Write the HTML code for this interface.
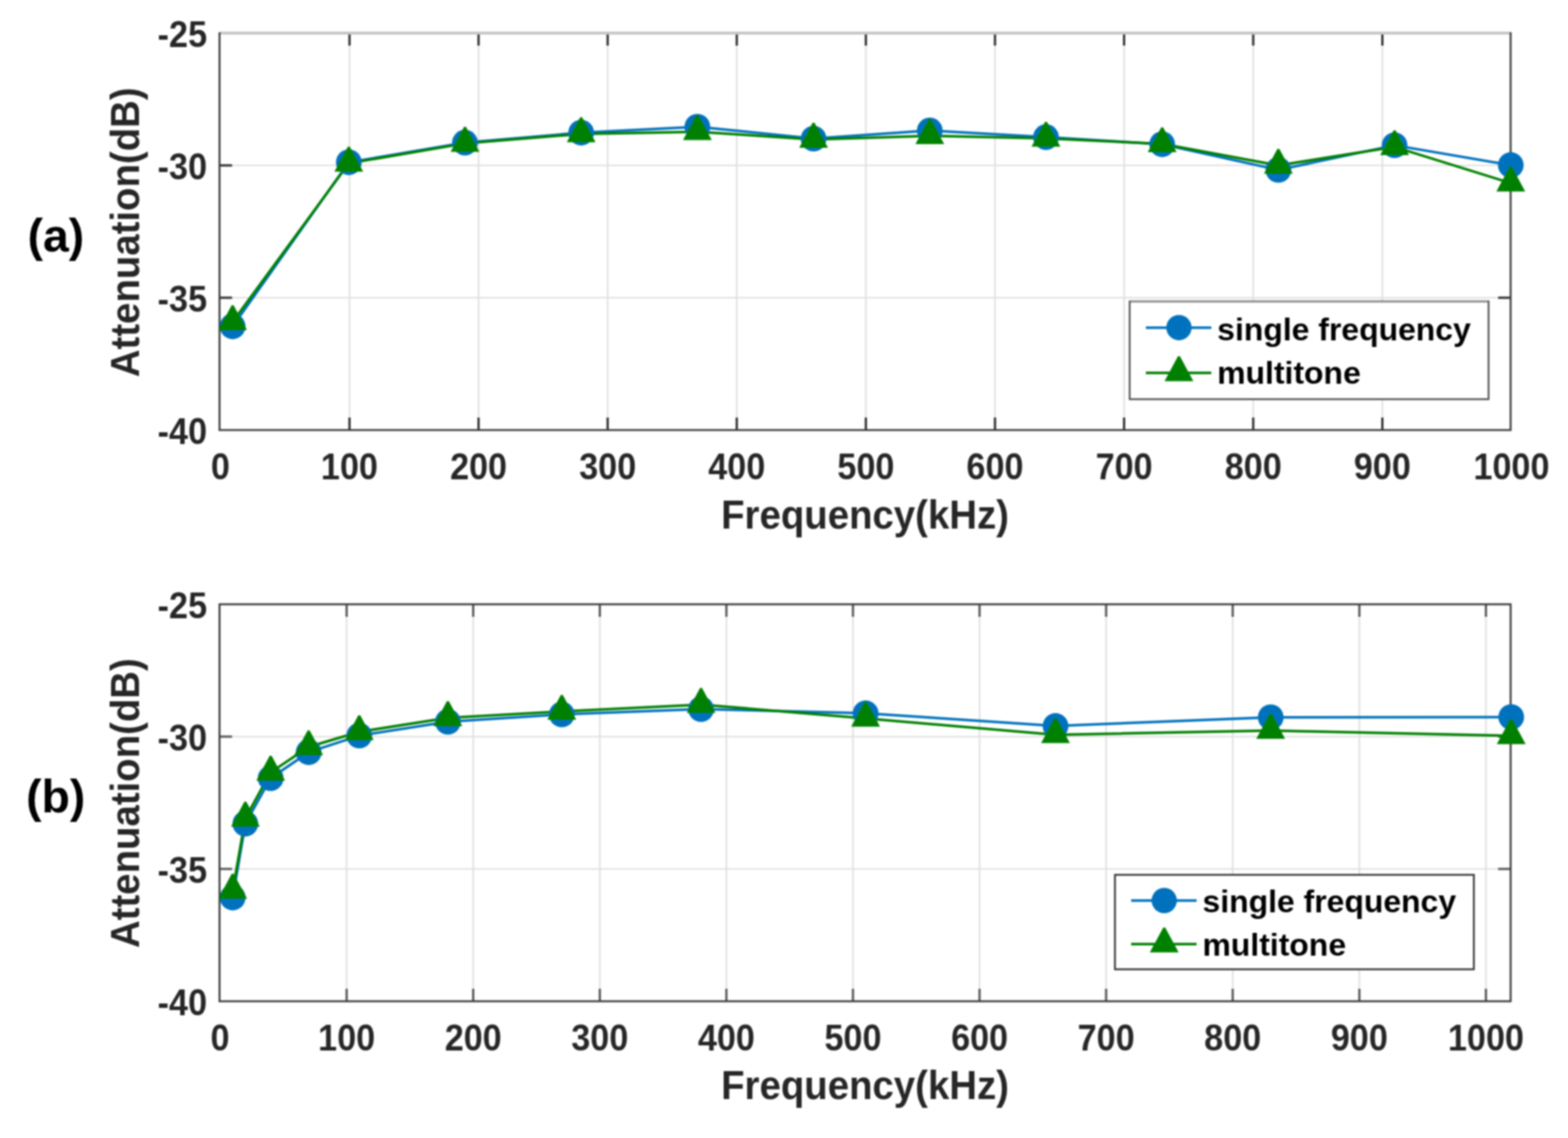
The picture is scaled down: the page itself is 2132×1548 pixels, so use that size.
<!DOCTYPE html>
<html><head><meta charset="utf-8"><title>Attenuation vs Frequency</title>
<style>html,body{margin:0;padding:0;background:#fff;}body{width:2132px;height:1548px;overflow:hidden;}svg{display:block;filter:blur(0.8px);}</style>
</head><body>
<svg width="2132" height="1548" viewBox="0 0 2132 1548" font-family='"Liberation Sans", Arial, Helvetica, sans-serif' font-weight="bold">
<rect width="2132" height="1548" fill="#fff"/>
<path d="M475.2 45.0 V585.0 M650.7 45.0 V585.0 M826.2 45.0 V585.0 M1001.8 45.0 V585.0 M1177.3 45.0 V585.0 M1352.9 45.0 V585.0 M1528.4 45.0 V585.0 M1704.0 45.0 V585.0 M1879.6 45.0 V585.0 M298.5 225.0 H2054.0 M298.5 405.0 H2054.0" stroke="#e0e0e0" stroke-width="2.2" fill="none"/>
<path d="M475.2 585.0 V568.0 M475.2 45.0 V62.0 M650.7 585.0 V568.0 M650.7 45.0 V62.0 M826.2 585.0 V568.0 M826.2 45.0 V62.0 M1001.8 585.0 V568.0 M1001.8 45.0 V62.0 M1177.3 585.0 V568.0 M1177.3 45.0 V62.0 M1352.9 585.0 V568.0 M1352.9 45.0 V62.0 M1528.4 585.0 V568.0 M1528.4 45.0 V62.0 M1704.0 585.0 V568.0 M1704.0 45.0 V62.0 M1879.6 585.0 V568.0 M1879.6 45.0 V62.0 M298.5 225.0 H315.5 M2054.0 225.0 H2037.0 M298.5 405.0 H315.5 M2054.0 405.0 H2037.0" stroke="#2a2a2a" stroke-width="3" fill="none"/>
<path d="M298.5 45.0 H2055.0" stroke="#c6c6c6" stroke-width="4" fill="none"/>
<path d="M298.5 44.0 V585.0 H2054.0 V44.0" stroke="#3a3a3a" stroke-width="2.6" fill="none"/>
<path d="M316.3 443.9 L474.3 220.7 L632.2 194.0 L790.2 180.4 L948.2 172.4 L1106.2 188.6 L1264.2 177.5 L1422.2 186.5 L1580.2 196.2 L1738.2 231.1 L1896.2 197.6 L2054.2 224.6" stroke="#0072bd" stroke-width="3.5" fill="none" stroke-linejoin="round"/>
<path d="M316.3 437.8 L474.3 222.1 L632.2 195.1 L790.2 182.2 L948.2 179.3 L1106.2 189.7 L1264.2 184.7 L1422.2 188.3 L1580.2 195.8 L1738.2 225.0 L1896.2 199.8 L2054.2 249.1" stroke="#008000" stroke-width="3.5" fill="none" stroke-linejoin="round"/>
<circle cx="316.3" cy="443.9" r="17.5" fill="#0072bd"/>
<circle cx="474.3" cy="220.7" r="17.5" fill="#0072bd"/>
<circle cx="632.2" cy="194.0" r="17.5" fill="#0072bd"/>
<circle cx="790.2" cy="180.4" r="17.5" fill="#0072bd"/>
<circle cx="948.2" cy="172.4" r="17.5" fill="#0072bd"/>
<circle cx="1106.2" cy="188.6" r="17.5" fill="#0072bd"/>
<circle cx="1264.2" cy="177.5" r="17.5" fill="#0072bd"/>
<circle cx="1422.2" cy="186.5" r="17.5" fill="#0072bd"/>
<circle cx="1580.2" cy="196.2" r="17.5" fill="#0072bd"/>
<circle cx="1738.2" cy="231.1" r="17.5" fill="#0072bd"/>
<circle cx="1896.2" cy="197.6" r="17.5" fill="#0072bd"/>
<circle cx="2054.2" cy="224.6" r="17.5" fill="#0072bd"/>
<path d="M315.0 415.2 L317.6 415.2 L335.8 449.1 L296.7 449.1 Z" fill="#008000"/>
<path d="M473.0 199.5 L475.6 199.5 L493.8 233.4 L454.7 233.4 Z" fill="#008000"/>
<path d="M630.9 172.5 L633.5 172.5 L651.8 206.4 L612.7 206.4 Z" fill="#008000"/>
<path d="M788.9 159.6 L791.5 159.6 L809.8 193.5 L770.7 193.5 Z" fill="#008000"/>
<path d="M946.9 156.7 L949.5 156.7 L967.8 190.6 L928.7 190.6 Z" fill="#008000"/>
<path d="M1104.9 167.1 L1107.5 167.1 L1125.8 201.0 L1086.7 201.0 Z" fill="#008000"/>
<path d="M1262.9 162.1 L1265.5 162.1 L1283.8 196.0 L1244.7 196.0 Z" fill="#008000"/>
<path d="M1420.9 165.7 L1423.5 165.7 L1441.8 199.6 L1402.6 199.6 Z" fill="#008000"/>
<path d="M1578.9 173.2 L1581.5 173.2 L1599.8 207.1 L1560.6 207.1 Z" fill="#008000"/>
<path d="M1736.9 202.4 L1739.5 202.4 L1757.8 236.3 L1718.6 236.3 Z" fill="#008000"/>
<path d="M1894.9 177.2 L1897.5 177.2 L1915.8 211.1 L1876.6 211.1 Z" fill="#008000"/>
<path d="M2052.9 226.5 L2055.5 226.5 L2073.8 260.4 L2034.6 260.4 Z" fill="#008000"/>
<text transform="translate(299.60 651.90) scale(1 1.065)" font-size="46.5" fill="#262626" text-anchor="middle">0</text><text transform="translate(475.15 651.90) scale(1 1.065)" font-size="46.5" fill="#262626" text-anchor="middle">100</text><text transform="translate(650.70 651.90) scale(1 1.065)" font-size="46.5" fill="#262626" text-anchor="middle">200</text><text transform="translate(826.25 651.90) scale(1 1.065)" font-size="46.5" fill="#262626" text-anchor="middle">300</text><text transform="translate(1001.80 651.90) scale(1 1.065)" font-size="46.5" fill="#262626" text-anchor="middle">400</text><text transform="translate(1177.35 651.90) scale(1 1.065)" font-size="46.5" fill="#262626" text-anchor="middle">500</text><text transform="translate(1352.90 651.90) scale(1 1.065)" font-size="46.5" fill="#262626" text-anchor="middle">600</text><text transform="translate(1528.45 651.90) scale(1 1.065)" font-size="46.5" fill="#262626" text-anchor="middle">700</text><text transform="translate(1704.00 651.90) scale(1 1.065)" font-size="46.5" fill="#262626" text-anchor="middle">800</text><text transform="translate(1879.55 651.90) scale(1 1.065)" font-size="46.5" fill="#262626" text-anchor="middle">900</text><text transform="translate(2055.10 651.90) scale(1 1.065)" font-size="46.5" fill="#262626" text-anchor="middle">1000</text><text transform="translate(281.50 64.20) scale(1 1.065)" font-size="46.5" fill="#262626" text-anchor="end">-25</text><text transform="translate(281.50 244.20) scale(1 1.065)" font-size="46.5" fill="#262626" text-anchor="end">-30</text><text transform="translate(281.50 424.20) scale(1 1.065)" font-size="46.5" fill="#262626" text-anchor="end">-35</text><text transform="translate(281.50 604.20) scale(1 1.065)" font-size="46.5" fill="#262626" text-anchor="end">-40</text>
<text transform="translate(1176.20 718.50) scale(1 1.060)" font-size="52.2" fill="#262626" text-anchor="middle">Frequency(kHz)</text>
<text transform="translate(189.40 316.00) rotate(-90) scale(1 1.060)" font-size="52.2" fill="#262626" text-anchor="middle">Attenuation(dB)</text>
<text transform="translate(37.50 342.00)" font-size="63" fill="#000">(a)</text>
<rect x="1536.0" y="410.0" width="488.0" height="133.0" fill="#fff" stroke="#505050" stroke-width="2.4"/>
<path d="M1537.2 410.0 H2022.8" stroke="#8c8c8c" stroke-width="2.6"/>
<path d="M1558.0 445.7 H1647.0" stroke="#0072bd" stroke-width="3.5"/>
<circle cx="1603.0" cy="445.7" r="17.2" fill="#0072bd"/>
<path d="M1558.0 507.2 H1647.0" stroke="#008000" stroke-width="3.5"/>
<path d="M1601.7 484.6 L1604.3 484.6 L1622.6 518.5 L1583.4 518.5 Z" fill="#008000"/>
<text transform="translate(1655.00 463.00) scale(1 0.970)" font-size="43.4" fill="#000">single frequency</text>
<text transform="translate(1655.00 522.30) scale(1 0.970)" font-size="43.4" fill="#000">multitone</text>
<path d="M471.3 822.0 V1362.0 M643.4 822.0 V1362.0 M815.6 822.0 V1362.0 M987.7 822.0 V1362.0 M1159.8 822.0 V1362.0 M1331.9 822.0 V1362.0 M1504.0 822.0 V1362.0 M1676.1 822.0 V1362.0 M1848.3 822.0 V1362.0 M2020.4 822.0 V1362.0 M298.5 1002.0 H2054.0 M298.5 1182.0 H2054.0" stroke="#e0e0e0" stroke-width="2.2" fill="none"/>
<path d="M471.3 1362.0 V1345.0 M471.3 822.0 V839.0 M643.4 1362.0 V1345.0 M643.4 822.0 V839.0 M815.6 1362.0 V1345.0 M815.6 822.0 V839.0 M987.7 1362.0 V1345.0 M987.7 822.0 V839.0 M1159.8 1362.0 V1345.0 M1159.8 822.0 V839.0 M1331.9 1362.0 V1345.0 M1331.9 822.0 V839.0 M1504.0 1362.0 V1345.0 M1504.0 822.0 V839.0 M1676.1 1362.0 V1345.0 M1676.1 822.0 V839.0 M1848.3 1362.0 V1345.0 M1848.3 822.0 V839.0 M2020.4 1362.0 V1345.0 M2020.4 822.0 V839.0 M298.5 1002.0 H315.5 M2054.0 1002.0 H2037.0 M298.5 1182.0 H315.5 M2054.0 1182.0 H2037.0" stroke="#555555" stroke-width="3" fill="none"/>
<rect x="298.5" y="822.0" width="1755.5" height="540.0" stroke="#3a3a3a" stroke-width="2.6" fill="none"/>
<path d="M316.4 1220.9 L333.6 1120.4 L368.0 1058.5 L419.7 1023.2 L488.5 1000.6 L609.0 981.8 L763.9 971.8 L953.2 964.6 L1177.0 970.3 L1435.2 987.6 L1727.8 975.7 L2054.8 975.4" stroke="#0072bd" stroke-width="3.5" fill="none" stroke-linejoin="round"/>
<path d="M316.4 1211.2 L333.6 1113.2 L368.0 1050.6 L419.7 1016.0 L488.5 995.5 L609.0 976.4 L763.9 967.8 L953.2 958.4 L1177.0 977.2 L1435.2 999.5 L1727.8 993.7 L2054.8 1000.9" stroke="#008000" stroke-width="3.5" fill="none" stroke-linejoin="round"/>
<circle cx="316.4" cy="1220.9" r="17.5" fill="#0072bd"/>
<circle cx="333.6" cy="1120.4" r="17.5" fill="#0072bd"/>
<circle cx="368.0" cy="1058.5" r="17.5" fill="#0072bd"/>
<circle cx="419.7" cy="1023.2" r="17.5" fill="#0072bd"/>
<circle cx="488.5" cy="1000.6" r="17.5" fill="#0072bd"/>
<circle cx="609.0" cy="981.8" r="17.5" fill="#0072bd"/>
<circle cx="763.9" cy="971.8" r="17.5" fill="#0072bd"/>
<circle cx="953.2" cy="964.6" r="17.5" fill="#0072bd"/>
<circle cx="1177.0" cy="970.3" r="17.5" fill="#0072bd"/>
<circle cx="1435.2" cy="987.6" r="17.5" fill="#0072bd"/>
<circle cx="1727.8" cy="975.7" r="17.5" fill="#0072bd"/>
<circle cx="2054.8" cy="975.4" r="17.5" fill="#0072bd"/>
<path d="M315.1 1188.6 L317.7 1188.6 L336.0 1222.5 L296.8 1222.5 Z" fill="#008000"/>
<path d="M332.3 1090.6 L334.9 1090.6 L353.2 1124.5 L314.1 1124.5 Z" fill="#008000"/>
<path d="M366.7 1028.0 L369.3 1028.0 L387.6 1061.9 L348.5 1061.9 Z" fill="#008000"/>
<path d="M418.4 993.4 L421.0 993.4 L439.3 1027.3 L400.1 1027.3 Z" fill="#008000"/>
<path d="M487.2 972.9 L489.8 972.9 L508.1 1006.8 L469.0 1006.8 Z" fill="#008000"/>
<path d="M607.7 953.8 L610.3 953.8 L628.6 987.7 L589.4 987.7 Z" fill="#008000"/>
<path d="M762.6 945.2 L765.2 945.2 L783.5 979.1 L744.3 979.1 Z" fill="#008000"/>
<path d="M951.9 935.8 L954.5 935.8 L972.8 969.7 L933.7 969.7 Z" fill="#008000"/>
<path d="M1175.7 954.6 L1178.3 954.6 L1196.6 988.5 L1157.4 988.5 Z" fill="#008000"/>
<path d="M1433.9 976.9 L1436.5 976.9 L1454.7 1010.8 L1415.6 1010.8 Z" fill="#008000"/>
<path d="M1726.5 971.1 L1729.1 971.1 L1747.3 1005.0 L1708.2 1005.0 Z" fill="#008000"/>
<path d="M2053.5 978.3 L2056.1 978.3 L2074.4 1012.2 L2035.2 1012.2 Z" fill="#008000"/>
<text transform="translate(299.20 1428.90) scale(1 1.065)" font-size="46.5" fill="#262626" text-anchor="middle">0</text><text transform="translate(471.32 1428.90) scale(1 1.065)" font-size="46.5" fill="#262626" text-anchor="middle">100</text><text transform="translate(643.44 1428.90) scale(1 1.065)" font-size="46.5" fill="#262626" text-anchor="middle">200</text><text transform="translate(815.55 1428.90) scale(1 1.065)" font-size="46.5" fill="#262626" text-anchor="middle">300</text><text transform="translate(987.67 1428.90) scale(1 1.065)" font-size="46.5" fill="#262626" text-anchor="middle">400</text><text transform="translate(1159.79 1428.90) scale(1 1.065)" font-size="46.5" fill="#262626" text-anchor="middle">500</text><text transform="translate(1331.91 1428.90) scale(1 1.065)" font-size="46.5" fill="#262626" text-anchor="middle">600</text><text transform="translate(1504.02 1428.90) scale(1 1.065)" font-size="46.5" fill="#262626" text-anchor="middle">700</text><text transform="translate(1676.14 1428.90) scale(1 1.065)" font-size="46.5" fill="#262626" text-anchor="middle">800</text><text transform="translate(1848.26 1428.90) scale(1 1.065)" font-size="46.5" fill="#262626" text-anchor="middle">900</text><text transform="translate(2020.38 1428.90) scale(1 1.065)" font-size="46.5" fill="#262626" text-anchor="middle">1000</text><text transform="translate(281.50 841.20) scale(1 1.065)" font-size="46.5" fill="#262626" text-anchor="end">-25</text><text transform="translate(281.50 1021.20) scale(1 1.065)" font-size="46.5" fill="#262626" text-anchor="end">-30</text><text transform="translate(281.50 1201.20) scale(1 1.065)" font-size="46.5" fill="#262626" text-anchor="end">-35</text><text transform="translate(281.50 1381.20) scale(1 1.065)" font-size="46.5" fill="#262626" text-anchor="end">-40</text>
<text transform="translate(1176.20 1494.50) scale(1 1.060)" font-size="52.2" fill="#262626" text-anchor="middle">Frequency(kHz)</text>
<text transform="translate(189.40 1092.50) rotate(-90) scale(1 1.060)" font-size="52.2" fill="#262626" text-anchor="middle">Attenuation(dB)</text>
<text transform="translate(35.60 1104.50)" font-size="63" fill="#000">(b)</text>
<rect x="1516.0" y="1190.0" width="488.0" height="128.5" fill="#fff" stroke="#303030" stroke-width="2.4"/>
<path d="M1538.0 1225.0 H1627.0" stroke="#0072bd" stroke-width="3.5"/>
<circle cx="1583.0" cy="1225.0" r="17.2" fill="#0072bd"/>
<path d="M1538.0 1284.3 H1627.0" stroke="#008000" stroke-width="3.5"/>
<path d="M1581.7 1261.7 L1584.3 1261.7 L1602.6 1295.6 L1563.4 1295.6 Z" fill="#008000"/>
<text transform="translate(1635.00 1241.20) scale(1 0.970)" font-size="43.4" fill="#000">single frequency</text>
<text transform="translate(1635.00 1300.00) scale(1 0.970)" font-size="43.4" fill="#000">multitone</text>
</svg>
</body></html>
